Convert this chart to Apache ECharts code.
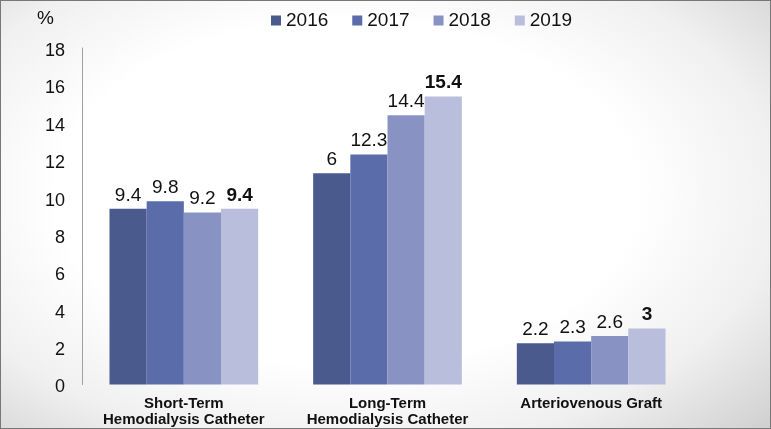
<!DOCTYPE html>
<html>
<head>
<meta charset="utf-8">
<script src="https://cdn.jsdelivr.net/npm/echarts@6/dist/echarts.min.js"></script>
<style>
  html, body { margin: 0; padding: 0; }
  #wrap { position: relative; width: 771px; height: 429px;
    background: radial-gradient(ellipse 75% 80% at 45% 45%, #ffffff 50%, #f0f0f0 75%, #d0d0d0 100%); }
  #chart { position: absolute; left: 0; top: 0; width: 771px; height: 429px; }
  #frame { position: absolute; left: 0; top: 0; width: 771px; height: 429px; box-sizing: border-box;
    border: 1px solid #777; pointer-events: none; }
</style>
</head>
<body>
<div id="wrap"><div id="chart"></div><div id="frame"></div></div>
<script>
const categories = ['Short-Term\nHemodialysis Catheter', 'Long-Term\nHemodialysis Catheter', 'Arteriovenous Graft'];
const years = ['2016', '2017', '2018', '2019'];
const values2016 = [9.4, 11.3, 2.2];
const values2017 = [9.8, 12.3, 2.3];
const values2018 = [9.2, 14.4, 2.6];
const values2019 = [9.4, 15.4, 3.0];
const labels2016 = ['9.4', '6', '2.2'];
const labels2017 = ['9.8', '12.3', '2.3'];
const labels2018 = ['9.2', '14.4', '2.6'];
const labels2019 = ['9.4', '15.4', '3'];
const yTicks = [0, 2, 4, 6, 8, 10, 12, 14, 16, 18];

const allValues = [values2016, values2017, values2018, values2019];
const allLabels = [labels2016, labels2017, labels2018, labels2019];
const colors = ['#4a5a8c', '#5a6ca9', '#8893c4', '#b8bedb'];
const FONT = '"Liberation Sans", Arial, sans-serif';

const chart = echarts.init(document.getElementById('chart'), null, { renderer: 'canvas' });
chart.setOption({
  backgroundColor: 'transparent',
  animation: false,
  legend: {
    left: 266, top: 6,
    itemWidth: 10, itemHeight: 10, itemGap: 24,
    icon: 'rect',
    textStyle: { fontFamily: FONT, fontSize: 19, color: '#111' },
    data: years
  },
  graphic: [{
    type: 'text', left: 37, top: 9,
    style: { text: '%', font: '19px ' + FONT, fill: '#111' }
  }],
  grid: { left: 82, right: 78, top: 48, bottom: 44.5 },
  xAxis: {
    type: 'category',
    data: categories,
    axisLine: { show: false },
    axisTick: { show: false },
    axisLabel: { fontFamily: FONT, fontSize: 15, fontWeight: 'bold', color: '#111', lineHeight: 16, margin: 11, interval: 0 }
  },
  yAxis: {
    type: 'value',
    min: yTicks[0], max: yTicks[yTicks.length - 1], interval: 2,
    axisLine: { show: true, lineStyle: { color: '#a0a0a0', width: 1 } },
    axisTick: { show: false },
    splitLine: { show: false },
    axisLabel: { fontFamily: FONT, fontSize: 18, color: '#111', margin: 17, verticalAlign: 'top', padding: [-6, 0, 0, 0] }
  },
  series: years.map((y, i) => ({
    name: y,
    type: 'bar',
    data: allValues[i],
    barGap: '0%',
    barCategoryGap: '27%',
    itemStyle: { color: colors[i] },
    label: {
      show: true, position: 'top', distance: 4,
      fontFamily: FONT, fontSize: 19, color: '#111',
      fontWeight: i === 3 ? 'bold' : 'normal',
      formatter: (p) => allLabels[i][p.dataIndex]
    }
  }))
});
</script>
</body>
</html>
